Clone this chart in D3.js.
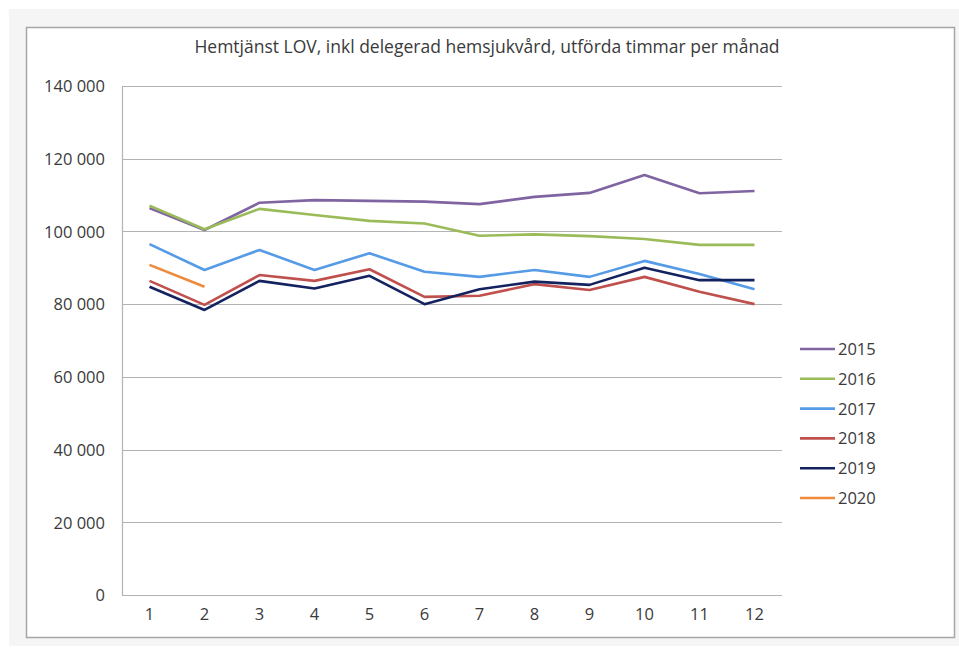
<!DOCTYPE html>
<html>
<head>
<meta charset="utf-8">
<script src="https://cdn.jsdelivr.net/npm/d3@7"></script>
<style>
  body { margin: 0; background: #fff; }
  text { font-family: "Open Sans", "Noto Sans", sans-serif; fill: #3a3a3a; }
</style>
</head>
<body>
<div id="chart"></div>
<script>
// data
const months = [1, 2, 3, 4, 5, 6, 7, 8, 9, 10, 11, 12]
const years = ['2015', '2016', '2017', '2018', '2019', '2020']
const colors = ['#8064a2', '#9bbb59', '#559be6', '#c0504d', '#14235f', '#ed8a3c']
const values2015 = [106400, 100400, 107900, 108600, 108400, 108200, 107500, 109500, 110600, 115500, 110500, 111100]
const values2016 = [107100, 100600, 106200, 104500, 102900, 102200, 98800, 99200, 98700, 97900, 96300, 96300]
const values2017 = [96500, 89400, 94900, 89400, 94000, 88900, 87500, 89400, 87500, 91900, 88300, 84100]
const values2018 = [86400, 79800, 88000, 86400, 89600, 82000, 82300, 85500, 83900, 87500, 83400, 80000]
const values2019 = [84800, 78400, 86400, 84300, 87800, 80000, 84100, 86200, 85300, 90000, 86600, 86600]
const values2020 = [90800, 84800]
const yTicks = [0, 20000, 40000, 60000, 80000, 100000, 120000, 140000]
const title = 'Hemtjänst LOV, inkl delegerad hemsjukvård, utförda timmar per månad'

const series = [values2015, values2016, values2017, values2018, values2019, values2020]

const width = 959
const height = 648

const svg = d3.select('#chart').append('svg')
  .attr('width', width)
  .attr('height', height)

// outer grey frame + white chart box
svg.append('rect').attr('x', 9).attr('y', 9).attr('width', 950).attr('height', 637).attr('fill', '#f5f5f5')
svg.append('rect').attr('x', 26.5).attr('y', 27.5).attr('width', 928).attr('height', 610)
  .attr('fill', '#fff').attr('stroke', '#a6a6a6').attr('stroke-width', 1.5)

svg.append('text')
  .attr('x', 487).attr('y', 53)
  .attr('text-anchor', 'middle')
  .style('font-size', '17.5px')
  .text(title)

const x = d3.scaleBand().domain(months).range([122, 782])
const y = d3.scaleLinear().domain([0, 140000]).range([595, 86])

const fmt = d => d3.format(',')(d).replace(/,/g, ' ')

// gridlines
svg.append('g').selectAll('line')
  .data(yTicks)
  .enter().append('line')
  .attr('x1', 122).attr('x2', 782)
  .attr('y1', d => Math.round(y(d)) + 0.5).attr('y2', d => Math.round(y(d)) + 0.5)
  .attr('stroke', '#b3b3b3').attr('stroke-width', 1.2)

// y axis
const yAxis = svg.append('g')
  .attr('transform', 'translate(122,0.5)')
  .call(d3.axisLeft(y).tickValues(yTicks).tickFormat(fmt).tickSize(0).tickPadding(17))
yAxis.select('.domain').attr('stroke', '#b3b3b3').attr('stroke-width', 1.2)
yAxis.selectAll('text').style('font-size', '16.5px').attr('fill', '#3a3a3a')

// x axis
const xAxis = svg.append('g')
  .attr('transform', 'translate(0,595.5)')
  .call(d3.axisBottom(x).tickSize(0).tickPadding(13))
xAxis.select('.domain').remove()
xAxis.selectAll('text').style('font-size', '16.5px').attr('fill', '#3a3a3a')

const line = d3.line()
  .x((d, i) => x(months[i]) + x.bandwidth() / 2)
  .y(d => y(d))

svg.append('g').selectAll('path')
  .data(series)
  .enter().append('path')
  .attr('d', d => line(d))
  .attr('fill', 'none')
  .attr('stroke', (d, i) => colors[i])
  .attr('stroke-width', 2.6)
  .attr('stroke-linejoin', 'round')

// legend
const legend = svg.append('g').selectAll('g')
  .data(years)
  .enter().append('g')
  .attr('transform', (d, i) => `translate(800,${349 + i * 29.8})`)

legend.append('line')
  .attr('x1', 0).attr('x2', 35)
  .attr('stroke', (d, i) => colors[i])
  .attr('stroke-width', 2.6)

legend.append('text')
  .attr('x', 38).attr('y', 6)
  .style('font-size', '16.5px')
  .text(d => d)
</script>
</body>
</html>
